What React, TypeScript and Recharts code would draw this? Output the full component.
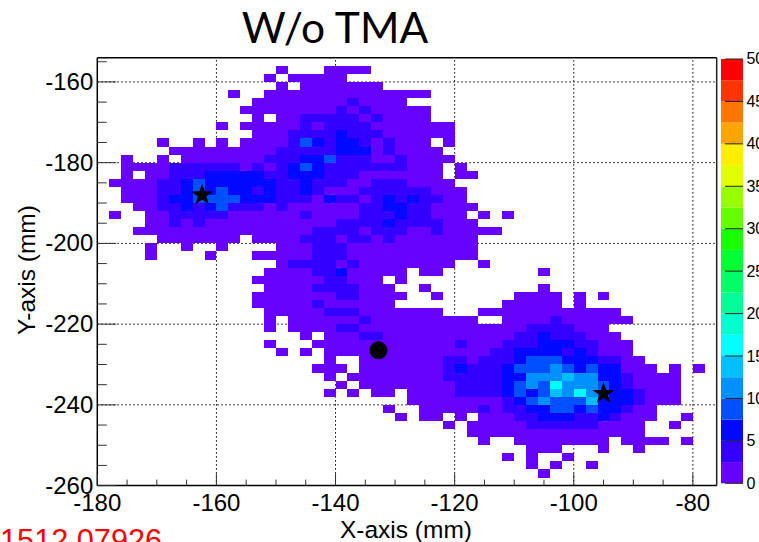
import { ScatterChart, Scatter, BarChart, Bar, XAxis, YAxis, ReferenceLine } from 'recharts';

// colour bands of the z scale, lowest first (each band is 2.5 counts wide)
const bandColors = [
  '#6600ff', '#3300ff', '#0008ff', '#0050ff', '#0090ff', '#00bfff', '#00ffff', '#00ffcc', '#00ff99', '#00ff66',
  '#00ff33', '#1aff00', '#66ff00', '#99ff00', '#e0ff00', '#ffee00', '#ffa500', '#ff7700', '#ff3300', '#ff0000',
];
const bandWidth = 2.5;
const zTicks = [0, 5, 10, 15, 20, 25, 30, 35, 40, 45, 50];

const xTicks = [
  -180, -175, -170, -165, -160, -155, -150, -145, -140, -135, -130, -125, -120, -115, -110, -105, -100, -95, -90, -85, -80,
];
const yTicks = [
  -260, -255, -250, -245, -240, -235, -230, -225, -220, -215, -210, -205, -200, -195, -190, -185, -180, -175, -170, -165,
  -160, -155,
];
const gridX = [-160, -140, -120, -100, -80];
const gridY = [-240, -220, -200, -180, -160];

// one string per y bin, top row first. '.' is an empty bin, a digit is the colour band.
// spaces only group the x bins in tens.
const binRows = [
  '',
  '.......... .....0...0 000.......',
  '.......... ....0.0000 0.........',
  '.......... .....0.000 0000......',
  '.......... .0..000000 00000000..',
  '.......... ...0000000 010000....',
  '.......... ..00000000 10100000..',
  '.......... ...0.00111 11010000..',
  '.......... 0.00000101 1110000000',
  '.......... ...0001111 2111000000',
  '.....0..0. 0.00001321 22101000.0',
  '......0000 0000011111 222010000.',
  '..0..0.000 0000111223 1110010000',
  '..00001111 1101012321 111111000. 0.........',
  '..0.001112 2222112221 110000000. 00........',
  '.000011232 2222211211 1001110000',
  '..00011232 3221211210 0011111100 0.........',
  '..00012233 3322211102 1101212110 0.........',
  '...0011212 3111010000 0011221100 00........',
  '.0..001111 1000000100 0011121100 0.0.0.....',
  '....001010 0000000000 1111211110 00........',
  '...0000000 0000000011 1101110010 0000......',
  '.....00000 00.0000111 0110100000 00........',
  '....0..0.. 0....00011 1000000000 00........',
  '....0....0 ...0000011 1000000000 00........',
  '.......... .....01111 0100000000 ..0.......',
  '.......... ....000011 200000.00. .......0..',
  '.......... ...0000001 1000.0....',
  '.......... ....000011 11000..0.. .......0..',
  '.......... ...0000000 110000..0. .....0000. 0.0.......',
  '.......... ...0000010 00000..... ....00000. 0.........',
  '.......... ....000001 110000000. ..00000000 0000......',
  '.......... ....0.0000 0010000000 00..000010 00000.....',
  '.......... ....0.0000 1100000000 0000001111 000.......',
  '.......... .......0.0 0011000000 0000011211 1000......',
  '.......... ....0...00 0000000000 1000111222 11000.....',
  '.......... .....0.0.0 0000000000 0001122221 21000.....',
  '.......... .........0 ..00000001 1011123332 221100....',
  '.......... ........00 0.00000001 2111233343 2322000.0. 0.',
  '.......... .........0 .000000001 1111224445 442210000.',
  '.......... .......... 0.00000000 1111234364 443210000.',
  '.......... .........0 .0.00.0000 1111232354 643221000.',
  '.......... .......... ......0000 0000123433 352221000.',
  '.......... .......... ....0..000 0010112233 2322100...',
  '.......... .......... .....0.00. 0.00011222 1121000..0',
  '.......... .......... .........0 .000001111 110000..0.',
  '.......... .......... .......... .000000000 000000....',
  '.......... .......... .......... ..0..00000 000.0000.0',
  '.......... .......... .......... ......000. ..0..0....',
  '.......... .......... .......... ....0.0..0',
  '.......... .......... .......... ......0.0. .0........',
  '.......... .......... .......... .......0..',
];

const starPoints = [
  { x: -162.4, y: -188 },
  { x: -95, y: -237.2 },
];
const circlePoints = [{ x: -132.8, y: -226.5 }];

const X_MIN = -180;
const X_MAX = -76;
const Y_MIN = -260;
const Y_MAX = -154;
const BIN_SIZE = 2;

const PLOT_LEFT = 97.3;
const PLOT_RIGHT = 716.7;
const PLOT_TOP = 57.7;
const PLOT_BOTTOM = 485.6;
const cellWidth = ((PLOT_RIGHT - PLOT_LEFT) / (X_MAX - X_MIN)) * BIN_SIZE;
const cellHeight = ((PLOT_BOTTOM - PLOT_TOP) / (Y_MAX - Y_MIN)) * BIN_SIZE;

const FONT = '"Liberation Sans", Arial, sans-serif';

const cells = binRows.flatMap((row, r) =>
  row
    .replace(/ /g, '')
    .split('')
    .flatMap((ch, c) =>
      ch === '.'
        ? []
        : [{ x: X_MIN + BIN_SIZE * (c + 0.5), y: Y_MAX - BIN_SIZE * (r + 0.5), count: (Number(ch) + 0.5) * bandWidth }]
    )
);

const colorBarRow = [Object.fromEntries(bandColors.map((_, i) => [`band${i}`, bandWidth]))];

function BinCell({ cx, cy, payload }: any) {
  const band = Math.floor(payload.count / bandWidth);
  return (
    <rect
      x={cx - cellWidth / 2}
      y={cy - cellHeight / 2}
      width={cellWidth}
      height={cellHeight}
      fill={bandColors[band]}
      shapeRendering="crispEdges"
    />
  );
}

function Star({ cx, cy }: any) {
  const pts = Array.from({ length: 10 }, (_, i) => {
    const r = i % 2 === 0 ? 11.5 : 4.5;
    const a = (Math.PI / 5) * i - Math.PI / 2;
    return `${cx + r * Math.cos(a)},${cy + r * Math.sin(a)}`;
  });
  return <polygon points={pts.join(' ')} fill="#000" />;
}

function Dot({ cx, cy }: any) {
  return <circle cx={cx} cy={cy} r={9} fill="#000" />;
}

function XTick({ x, y, payload }: any) {
  const major = payload.value % 20 === 0;
  return (
    <g>
      <line x1={x} x2={x} y1={y} y2={y - (major ? 12 : 6)} stroke="#333" strokeWidth={1} />
      {major && (
        <text x={x} y={y + 25} textAnchor="middle" fontFamily={FONT} fontSize={24} fill="#000">
          {payload.value}
        </text>
      )}
    </g>
  );
}

function YTick({ x, y, payload }: any) {
  const major = payload.value % 20 === 0;
  return (
    <g>
      <line x1={x} x2={x + (major ? 19 : 9.5)} y1={y} y2={y} stroke="#333" strokeWidth={1} />
      {major && (
        <text x={x - 4} y={y + 8} textAnchor="end" fontFamily={FONT} fontSize={24} fill="#000">
          {payload.value}
        </text>
      )}
    </g>
  );
}

function ZTick({ x, y, payload }: any) {
  return (
    <g>
      <line x1={x - 18} x2={x} y1={y} y2={y} stroke="#222" strokeWidth={1} />
      <text x={x + 3.5} y={y + 5.5} fontFamily={FONT} fontSize={16} fill="#000">
        {payload.value}
      </text>
    </g>
  );
}

export default function App() {
  return (
    <div style={{ position: 'fixed', left: 0, top: 0, width: 759, height: 542, overflow: 'hidden', background: '#fff' }}>
      <ScatterChart
        width={759}
        height={542}
        margin={{ top: PLOT_TOP, right: 759 - PLOT_RIGHT, bottom: 0, left: 0 }}
      >
        <XAxis
          type="number"
          dataKey="x"
          domain={[X_MIN, X_MAX]}
          ticks={xTicks}
          height={542 - PLOT_BOTTOM}
          interval={0}
          tickSize={0}
          tickMargin={0}
          tick={XTick}
          axisLine={{ stroke: '#000', strokeWidth: 1.5 }}
          tickLine={false}
          allowDataOverflow
        />
        <YAxis
          type="number"
          dataKey="y"
          domain={[Y_MIN, Y_MAX]}
          ticks={yTicks}
          width={PLOT_LEFT}
          interval={0}
          tickSize={0}
          tickMargin={0}
          tick={YTick}
          axisLine={{ stroke: '#000', strokeWidth: 1.5 }}
          tickLine={false}
          allowDataOverflow
        />
        <Scatter data={cells} shape={BinCell} isAnimationActive={false} />
        {gridX.map((v) => (
          <ReferenceLine key={`gx${v}`} x={v} stroke="#000" strokeDasharray="1.5 2.5" />
        ))}
        {gridY.map((v) => (
          <ReferenceLine key={`gy${v}`} y={v} stroke="#000" strokeDasharray="1.5 2.5" />
        ))}
        <ReferenceLine y={Y_MAX} stroke="#000" strokeWidth={1.5} />
        <ReferenceLine x={X_MAX} stroke="#222" strokeWidth={1.5} />
        <Scatter data={starPoints} shape={Star} isAnimationActive={false} />
        <Scatter data={circlePoints} shape={Dot} isAnimationActive={false} />
        <text x={335} y={43} textAnchor="middle" fontFamily="Lato, sans-serif" fontSize={42.5} fill="#000">
          W/o TMA
        </text>
        <text x={406} y={538} textAnchor="middle" fontFamily={FONT} fontSize={24.5} fill="#000">
          X-axis (mm)
        </text>
        <text
          x={35}
          y={270}
          textAnchor="middle"
          transform="rotate(-90 35 270)"
          fontFamily={FONT}
          fontSize={24.5}
          fill="#000"
        >
          Y-axis (mm)
        </text>
        <text x={0} y={551} fontFamily={FONT} fontSize={30.7} fill="#f00">
          1512.07926
        </text>
      </ScatterChart>
      <div style={{ position: 'absolute', left: 721.3, top: 49 }}>
        <BarChart
          width={60}
          height={444.3}
          data={colorBarRow}
          margin={{ top: 10, right: 0, bottom: 10, left: 0 }}
          barCategoryGap={0}
        >
          <XAxis hide />
          <YAxis
            orientation="right"
            type="number"
            domain={[0, 50]}
            ticks={zTicks}
            width={38}
            interval={0}
            tickSize={0}
            tickMargin={0}
            tick={ZTick}
            axisLine={false}
            tickLine={false}
          />
          {bandColors.map((color, i) => (
            <Bar key={color} dataKey={`band${i}`} stackId="z" fill={color} isAnimationActive={false} />
          ))}
        </BarChart>
      </div>
    </div>
  );
}
